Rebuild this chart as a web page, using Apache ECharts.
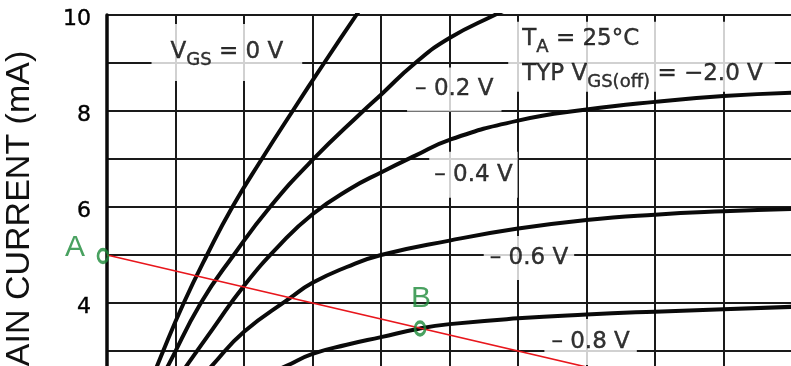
<!DOCTYPE html>
<html>
<head>
<meta charset="utf-8">
<script src="https://cdn.jsdelivr.net/npm/echarts@6/dist/echarts.min.js"></script>
<style>
  html, body { margin: 0; padding: 0; background: #fff; }
  #chart { width: 791px; height: 366px; }
</style>
</head>
<body>
<div id="chart"></div>
<script>
// JFET drain characteristics: drain current (mA) against drain-source voltage (V)
// for gate-source voltages 0 V down to -0.8 V, with a load line and two marked points.

// Axis ranges and tick steps
const vdsMin = 0, vdsMax = 10, vdsStep = 1;
const idMin = 0, idMax = 10, idStep = 1;
const idLabelEvery = 2;

// VGS = 0 V
const vds0 = [0, 0.4, 0.82, 1.12, 1.46, 1.83, 2.26, 2.71, 3.17, 3.64, 3.9];
const id0  = [0, 1.5, 3.0, 4.0, 5.0, 6.0, 7.0, 8.0, 9.0, 10.0, 10.55];

// VGS = -0.2 V
const vds02 = [0, 0.5, 0.89, 1.37, 1.85, 2.38, 3.0, 3.74, 4.0, 4.5, 5.0, 5.66, 5.9];
const id02  = [0, 1.65, 2.69, 4.0, 5.0, 6.0, 6.98, 8.0, 8.34, 9.0, 9.52, 10.0, 10.15];

// VGS = -0.4 V
const vds04 = [0, 0.6, 1.16, 1.55, 1.99, 2.53, 3.0, 3.55, 4.0, 4.5, 5, 6, 7, 8, 9, 10];
const id04  = [0, 1.55, 2.69, 3.47, 4.34, 5.22, 5.85, 6.38, 6.72, 7.07, 7.40, 7.80, 8.03, 8.19, 8.31, 8.38];

// VGS = -0.6 V
const vds06 = [0, 0.8, 1.53, 2.0, 2.67, 3.0, 3.5, 4, 5, 6, 7, 8, 9, 10];
const id06  = [0, 1.55, 2.69, 3.40, 4.10, 4.42, 4.75, 5.0, 5.30, 5.55, 5.73, 5.84, 5.91, 5.96];

// VGS = -0.8 V
const vds08 = [0, 1.5, 2.0, 2.62, 3.0, 3.5, 4.0, 4.57, 5, 6, 7, 8, 9, 10];
const id08  = [0, 1.85, 2.3, 2.69, 2.94, 3.13, 3.29, 3.47, 3.56, 3.68, 3.76, 3.82, 3.87, 3.92];

// Load line end points
const loadVds = [0, 15];
const loadId  = [5, 0];

// Marked operating points
const pointNames = ['A', 'B'];
const pointVds   = [0, 4.57];
const pointId    = [5, 3.47];

// Gate-voltage captions
const curveCaptions = ['\u2013 0.2 V', '\u2013 0.4 V', '\u2013 0.6 V', '\u2013 0.8 V'];

const TXT = '#000';
const INK = '#0a0a0a';
const GREEN = '#1b8a38';
const SANS = '"DejaVu Sans", sans-serif';

const zip = (xs, ys) => xs.map((x, i) => [x, ys[i]]);

const curves = [
  [vds0, id0], [vds02, id02], [vds04, id04], [vds06, id06], [vds08, id08]
];

const curveSeries = curves.map(([xs, ys]) => ({
  type: 'line',
  data: zip(xs, ys),
  symbol: 'none',
  smooth: 0.5,
  clip: true,
  silent: true,
  z: 4,
  lineStyle: { color: INK, width: 4, cap: 'round', join: 'round' }
}));

// shared look of the caption text
const textBase = { fontFamily: SANS, color: TXT, textBorderColor: TXT, textBorderWidth: 0.4 };

// caption anchors, in axis units
const captionItems = [
  { value: [1.75, 9.22], label: { formatter: '{v|V}{s|GS}{v| = 0 V}', padding: [11, 19, 12, 19] } },
  { value: [5.85, 9.13], label: {
      position: 'right', distance: 0, align: 'left',
      formatter: '{w|T}{ws|A}{w| = 25\u00B0C}\n{w|TYP V}{ws|GS(off)}{w| = \u22122.0 V}',
      padding: [0, 12, 0, 14]
  } },
  { value: [5.07, 8.45], label: { formatter: '{v|' + curveCaptions[0] + '}', padding: [5, 8, 5, 8] } },
  { value: [5.35, 6.67], label: { formatter: '{v|' + curveCaptions[1] + '}', padding: [6, 5, 6, 5] } },
  { value: [6.16, 4.94], label: { formatter: '{v|' + curveCaptions[2] + '}', padding: [5, 6, 5, 6] } },
  { value: [7.06, 3.19], label: { formatter: '{v|' + curveCaptions[3] + '}', padding: [6, 7, 6, 7] } }
];

const option = {
  animation: false,
  backgroundColor: '#fff',
  grid: { left: 107, top: 15, width: 685, height: 480, containLabel: false, outerBoundsMode: 'none' },
  xAxis: {
    type: 'value', min: vdsMin, max: vdsMax, interval: vdsStep,
    axisLine: { show: false },
    axisTick: { show: false },
    axisLabel: { show: false },
    splitLine: { show: true, lineStyle: { color: '#1a1a1a', width: 2 } }
  },
  yAxis: {
    type: 'value', min: idMin, max: idMax, interval: idStep,
    axisLine: { show: true, onZero: false, lineStyle: { color: INK, width: 3.5 } },
    axisTick: { show: false },
    axisLabel: {
      show: true, margin: 16, fontSize: 22,
      ...textBase,
      verticalAlign: 'top', lineHeight: 9,
      formatter: v => (v % idLabelEvery === 0 ? String(v) : '')
    },
    splitLine: { show: true, lineStyle: { color: '#1a1a1a', width: 2 } }
  },
  graphic: [{
    type: 'text',
    x: 20, y: 233,
    rotation: Math.PI / 2,
    silent: true,
    style: {
      text: 'DRAIN CURRENT (mA)',
      fontSize: 34, fontFamily: '"Liberation Sans", Arial, sans-serif',
      fill: '#111', align: 'center', verticalAlign: 'middle'
    }
  }],
  series: [
    ...curveSeries,
    {
      type: 'scatter',
      z: 3,
      silent: true,
      symbolSize: 1,
      itemStyle: { color: 'rgba(0,0,0,0)' },
      clip: false,
      data: captionItems,
      label: {
        show: true,
        position: 'inside',
        backgroundColor: '#fff',
        fontSize: 23,
        ...textBase,
        rich: {
          v:  { fontSize: 23, lineHeight: 34, ...textBase },
          s:  { fontSize: 18, lineHeight: 18, verticalAlign: 'bottom', ...textBase },
          w:  { fontSize: 23, lineHeight: 35, ...textBase },
          ws: { fontSize: 18, lineHeight: 18, verticalAlign: 'bottom', ...textBase }
        }
      }
    },
    {
      type: 'line',
      data: zip(loadVds, loadId),
      symbol: 'none',
      clip: true,
      silent: true,
      z: 5,
      lineStyle: { color: '#e8161c', width: 1.6 }
    },
    {
      type: 'scatter',
      z: 6,
      silent: true,
      clip: false,
      symbol: 'circle',
      symbolSize: [10, 13],
      itemStyle: { color: 'rgba(0,0,0,0)', borderColor: GREEN, borderWidth: 3 },
      data: pointNames.map((n, i) => ({
        name: n,
        value: [pointVds[i], pointId[i]],
        symbolOffset: i === 0 ? [-4, 1] : [0, 0],
        label: { offset: i === 0 ? [-28, -8] : [1, -30] }
      })),
      label: {
        show: true,
        position: 'inside',
        formatter: '{b}',
        color: GREEN,
        fontFamily: '"Liberation Sans Narrow", "Liberation Sans", sans-serif',
        fontSize: 30
      }
    }
  ]
};

const chart = echarts.init(document.getElementById('chart'), null, { renderer: 'canvas' });
chart.setOption(option);
</script>
</body>
</html>
